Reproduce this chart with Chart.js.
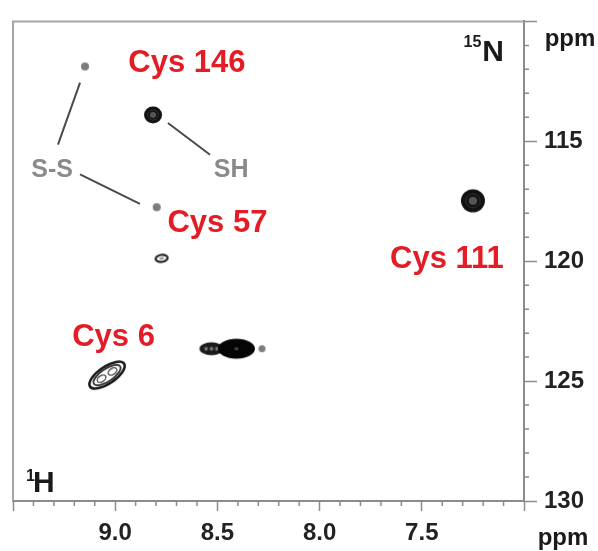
<!DOCTYPE html>
<html>
<head>
<meta charset="utf-8">
<script src="https://cdn.jsdelivr.net/npm/chart.js@4.4.1/dist/chart.umd.min.js"></script>
<style>
    body { margin: 0; background: #fff; }
    #box { width: 598px; height: 551px; }
</style>
</head>
<body>
<div id="box"><canvas id="hsqc"></canvas></div>
<script>
// 1H / 15N cross peaks (ppm)
var peakH = [9.148, 8.815, 8.797, 8.773, 7.250, 9.040, 8.529, 8.407, 8.282];
var peakN = [111.88, 113.90, 117.75, 119.88, 117.48, 124.75, 123.65, 123.65, 123.65];

// axis ticks
var hMajor = [9.5, 9.0, 8.5, 8.0, 7.5, 7.0];
var hLabels = [9.0, 8.5, 8.0, 7.5];
var nMajor = [110, 115, 120, 125, 130];
var nLabels = [115, 120, 125, 130];

// residue labels
var cysNames = ["Cys 146", "Cys 57", "Cys 111", "Cys 6"];
var cysAtH = [8.649, 8.500, 7.377, 9.008];
var cysAtN = [112.10, 118.77, 120.29, 123.54];

var stateNames = ["S-S", "SH"];
var stateAtH = [9.309, 8.433];
var stateAtN = [116.50, 116.50];

// connector lines: [h1, n1, h2, n2]
var links = [
    [9.280, 115.14, 9.172, 112.55],
    [9.172, 116.38, 8.879, 117.61],
    [8.742, 114.24, 8.536, 115.56]
];

// contour look of each peak
var peakKind = ["dot", "blob", "dot", "ring", "blob", "rings", "tail", "body", "dot"];
var peakRx = [4, 9, 4, 7, 12, 22, 12, 18.5, 3.5];
var peakRy = [4, 8.5, 4, 4.5, 11.5, 10, 6.5, 10, 3.5];
var peakTilt = [0, 0, 0, -8, 0, -34, 0, 0, 0];

var red = "#e31c25";
var grey = "#8a8a8a";
var axisGrey = "#8c8c8c";
var fontFamily = "'Liberation Sans', Arial, Helvetica, sans-serif";

function ellipse(g, rx, ry) {
    g.beginPath();
    g.ellipse(0, 0, rx, ry, 0, 0, Math.PI * 2);
}

function makeGlyph(kind, rx, ry, tilt) {
    var r = Math.max(rx, ry) + 4;
    var c = document.createElement("canvas");
    c.width = c.height = Math.ceil(r * 2);
    var g = c.getContext("2d");
    g.translate(c.width / 2, c.height / 2);
    g.rotate(tilt * Math.PI / 180);
    g.filter = "blur(0.6px)";

    if (kind == "dot") {
        g.fillStyle = "#7d7d7d";
        ellipse(g, rx, ry);
        g.fill();
    } else if (kind == "blob") {
        g.fillStyle = "#111";
        ellipse(g, rx, ry);
        g.fill();
        g.fillStyle = "#555";
        ellipse(g, rx * 0.35, ry * 0.35);
        g.fill();
        g.strokeStyle = "#333";
        g.lineWidth = 1;
        ellipse(g, rx * 0.6, ry * 0.6);
        g.stroke();
    } else if (kind == "ring") {
        g.strokeStyle = "#222";
        g.lineWidth = 2.2;
        ellipse(g, rx - 1, ry - 1);
        g.stroke();
        g.fillStyle = "#999";
        ellipse(g, rx * 0.35, ry * 0.3);
        g.fill();
    } else if (kind == "rings") {
        g.strokeStyle = "#1a1a1a";
        g.lineWidth = 2.6;
        ellipse(g, rx - 1.5, ry - 1.5);
        g.stroke();
        g.lineWidth = 1.8;
        g.strokeStyle = "#333";
        ellipse(g, rx * 0.72, ry * 0.62);
        g.stroke();
        g.lineWidth = 1.4;
        g.strokeStyle = "#555";
        g.save();
        g.translate(-rx * 0.3, 0);
        ellipse(g, rx * 0.22, ry * 0.3);
        g.stroke();
        g.restore();
        g.save();
        g.translate(rx * 0.3, 0);
        ellipse(g, rx * 0.22, ry * 0.3);
        g.stroke();
        g.restore();
    } else if (kind == "tail") {
        g.fillStyle = "#1a1a1a";
        ellipse(g, rx, ry);
        g.fill();
        g.fillStyle = "#777";
        for (var i = -1; i <= 1; i++) {
            g.save();
            g.translate(i * rx * 0.45, 0);
            ellipse(g, rx * 0.15, ry * 0.3);
            g.fill();
            g.restore();
        }
    } else {
        g.fillStyle = "#050505";
        ellipse(g, rx, ry);
        g.fill();
        g.fillStyle = "#444";
        ellipse(g, rx * 0.12, ry * 0.15);
        g.fill();
    }
    return c;
}

var glyphs = [];
var points = [];
for (var i = 0; i < peakH.length; i++) {
    glyphs.push(makeGlyph(peakKind[i], peakRx[i], peakRy[i], peakTilt[i]));
    points.push({ x: peakH[i], y: peakN[i] });
}

var spectrumDecor = {
    id: "spectrumDecor",
    beforeDatasetsDraw: function(chart) {
        var ctx = chart.ctx;
        var a = chart.chartArea;
        var xs = chart.scales.x;
        var ys = chart.scales.y;

        ctx.save();
        // left and top frame
        ctx.strokeStyle = "#a5a5a5";
        ctx.lineWidth = 2;
        ctx.beginPath();
        ctx.moveTo(a.left, a.bottom);
        ctx.lineTo(a.left, a.top);
        ctx.lineTo(a.right, a.top);
        ctx.stroke();

        // minor ticks
        ctx.strokeStyle = axisGrey;
        ctx.lineWidth = 1.5;
        ctx.beginPath();
        for (var t = 71; t < 95; t++) {
            if (t % 5 == 0) continue;
            var px = xs.getPixelForValue(t / 10);
            ctx.moveTo(px, a.bottom);
            ctx.lineTo(px, a.bottom + 5);
        }
        for (var n = 111; n < 130; n++) {
            if (n % 5 == 0) continue;
            var py = ys.getPixelForValue(n);
            ctx.moveTo(a.right, py);
            ctx.lineTo(a.right + 5, py);
        }
        ctx.stroke();

        // connectors
        ctx.strokeStyle = "#4a4a4a";
        ctx.lineWidth = 2;
        ctx.beginPath();
        links.forEach(function(l) {
            ctx.moveTo(xs.getPixelForValue(l[0]), ys.getPixelForValue(l[1]));
            ctx.lineTo(xs.getPixelForValue(l[2]), ys.getPixelForValue(l[3]));
        });
        ctx.stroke();

        // labels
        ctx.textAlign = "center";
        ctx.textBaseline = "alphabetic";
        ctx.fillStyle = red;
        ctx.font = "bold 31px " + fontFamily;
        for (var c = 0; c < cysNames.length; c++)
            ctx.fillText(cysNames[c], xs.getPixelForValue(cysAtH[c]), ys.getPixelForValue(cysAtN[c]));

        ctx.fillStyle = grey;
        ctx.font = "bold 25px " + fontFamily;
        for (var s = 0; s < stateNames.length; s++)
            ctx.fillText(stateNames[s], xs.getPixelForValue(stateAtH[s]), ys.getPixelForValue(stateAtN[s]));

        // nucleus names
        ctx.fillStyle = "#1a1a1a";
        ctx.textAlign = "right";
        ctx.font = "bold 30px " + fontFamily;
        ctx.fillText("N", a.right - 20, a.top + 40);
        var wN = ctx.measureText("N").width;
        ctx.font = "bold 16px " + fontFamily;
        ctx.fillText("15", a.right - 21 - wN, a.top + 26);

        ctx.textAlign = "left";
        ctx.fillText("1", a.left + 13, a.bottom - 20);
        ctx.font = "bold 30px " + fontFamily;
        ctx.fillText("H", a.left + 20, a.bottom - 9);

        // units
        ctx.textAlign = "center";
        ctx.font = "bold 24px " + fontFamily;
        ctx.fillText("ppm", a.right + 46, a.top + 25);
        ctx.fillText("ppm", a.right + 39, a.bottom + 44);
        ctx.restore();
    }
};

var tickFont = { family: fontFamily, size: 24, weight: "bold" };

new Chart(document.getElementById("hsqc"), {
    type: "scatter",
    data: {
        datasets: [{
            label: "HSQC",
            data: points,
            pointStyle: function(c) { return glyphs[c.dataIndex]; },
            pointRadius: 10
        }]
    },
    options: {
        responsive: true,
        maintainAspectRatio: false,
        animation: false,
        events: [],
        layout: { padding: { left: 13, top: 15, right: 0, bottom: 0 } },
        plugins: {
            legend: { display: false },
            tooltip: { enabled: false }
        },
        scales: {
            x: {
                type: "linear",
                position: "bottom",
                reverse: true,
                min: 7.0,
                max: 9.5,
                afterBuildTicks: function(scale) {
                    scale.ticks = hMajor.map(function(v) { return { value: v }; });
                },
                afterFit: function(scale) { scale.height = 50; },
                ticks: {
                    color: "#222",
                    font: tickFont,
                    padding: 8,
                    maxRotation: 0,
                    autoSkip: false,
                    callback: function(v) {
                        return hLabels.indexOf(v) >= 0 ? v.toFixed(1) : "";
                    }
                },
                grid: {
                    drawOnChartArea: false,
                    drawTicks: true,
                    tickLength: 10,
                    tickColor: axisGrey,
                    tickWidth: 1.5
                },
                border: { color: axisGrey, width: 2 }
            },
            y: {
                type: "linear",
                position: "right",
                reverse: true,
                min: 110,
                max: 130,
                afterBuildTicks: function(scale) {
                    scale.ticks = nMajor.map(function(v) { return { value: v }; });
                },
                afterFit: function(scale) { scale.width = 74; },
                ticks: {
                    color: "#222",
                    font: tickFont,
                    padding: 7,
                    autoSkip: false,
                    callback: function(v) {
                        return nLabels.indexOf(v) >= 0 ? String(v) : "";
                    }
                },
                grid: {
                    drawOnChartArea: false,
                    drawTicks: true,
                    tickLength: 13,
                    tickColor: axisGrey,
                    tickWidth: 1.5
                },
                border: { color: axisGrey, width: 2 }
            }
        }
    },
    plugins: [spectrumDecor]
});
</script>
</body>
</html>
